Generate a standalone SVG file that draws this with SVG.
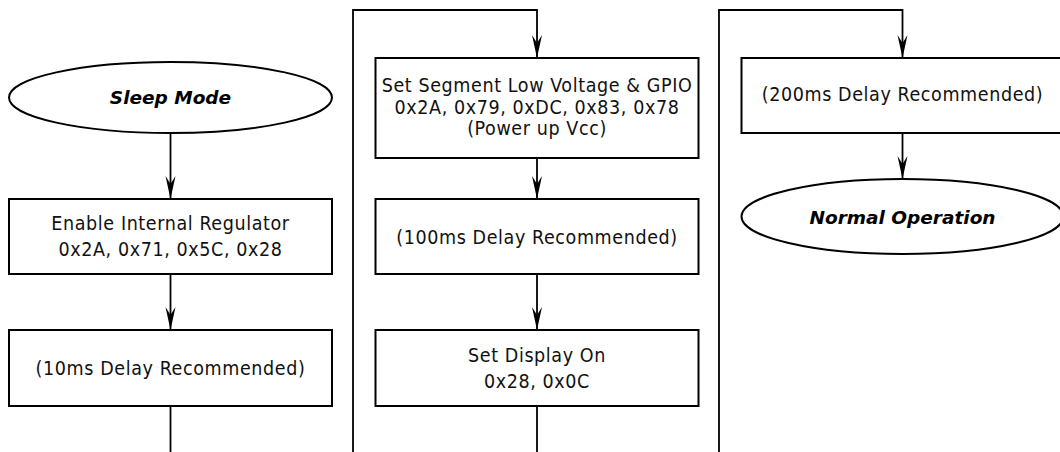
<svg xmlns="http://www.w3.org/2000/svg" width="1060" height="452" viewBox="0 0 1060 452">
<style>
.box{fill:#fff;stroke:#000;stroke-width:2}
.ell{fill:#fff;stroke:#000;stroke-width:2}
.t{font-family:"DejaVu Sans Condensed","DejaVu Sans",Verdana,sans-serif;font-stretch:condensed;font-size:19.5px;letter-spacing:0.6px;fill:#111;text-anchor:middle}
.tb{font-family:"DejaVu Sans",Verdana,sans-serif;font-size:18.5px;font-weight:bold;font-style:italic;fill:#000;text-anchor:middle}
.c{fill:none;stroke:#000;stroke-width:1.8}
.ca{fill:none;stroke:#000;stroke-width:1.8;marker-end:url(#arr)}
</style>
<defs>
<marker id="arr" markerUnits="userSpaceOnUse" viewBox="-24 -6 25 12" refX="0" refY="0" markerWidth="25" markerHeight="12" orient="auto" overflow="visible">
<path d="M0 0 L-23 -5 L-15 0 L-23 5 Z" fill="#000"/>
</marker>
</defs>
<rect width="1060" height="452" fill="#fff"/>
<g id="connectors">
<path class="ca" d="M170.5 133 V199"/>
<path class="ca" d="M170.5 274 V330"/>
<path class="c" d="M170.5 406 V452"/>
<path class="ca" d="M353 452 V10 H537 V58"/>
<path class="ca" d="M537 158 V199"/>
<path class="ca" d="M537 274 V330"/>
<path class="c" d="M537 406 V452"/>
<path class="ca" d="M719 452 V10 H902.5 V58"/>
<path class="ca" d="M902.5 133 V179"/>
</g>
<g id="sleep-mode">
<ellipse class="ell" cx="170.5" cy="97.5" rx="161.5" ry="35.5"/>
<text class="tb" x="170.5" y="104">Sleep Mode</text>
</g>
<g id="enable-regulator">
<rect class="box" x="9" y="199" width="323" height="75"/>
<text class="t" x="170.5" y="230">Enable Internal Regulator</text>
<text class="t" x="170.5" y="256">0x2A, 0x71, 0x5C, 0x28</text>
</g>
<g id="delay-10ms">
<rect class="box" x="9" y="330" width="323" height="76"/>
<text class="t" x="170.5" y="375">(10ms Delay Recommended)</text>
</g>
<g id="set-segment">
<rect class="box" x="375.5" y="58" width="323" height="100"/>
<text class="t" x="537" y="92">Set Segment Low Voltage &amp; GPIO</text>
<text class="t" x="537" y="113.5">0x2A, 0x79, 0xDC, 0x83, 0x78</text>
<text class="t" x="537" y="135">(Power up Vcc)</text>
</g>
<g id="delay-100ms">
<rect class="box" x="375.5" y="199" width="323" height="75"/>
<text class="t" x="537" y="244">(100ms Delay Recommended)</text>
</g>
<g id="display-on">
<rect class="box" x="375.5" y="330" width="323" height="76"/>
<text class="t" x="537" y="362">Set Display On</text>
<text class="t" x="537" y="388">0x28, 0x0C</text>
</g>
<g id="delay-200ms">
<rect class="box" x="741.5" y="58" width="323" height="75"/>
<text class="t" x="902.5" y="101">(200ms Delay Recommended)</text>
</g>
<g id="normal-operation">
<ellipse class="ell" cx="902.5" cy="216.5" rx="161" ry="37.5"/>
<text class="tb" x="902.5" y="224">Normal Operation</text>
</g>
</svg>
